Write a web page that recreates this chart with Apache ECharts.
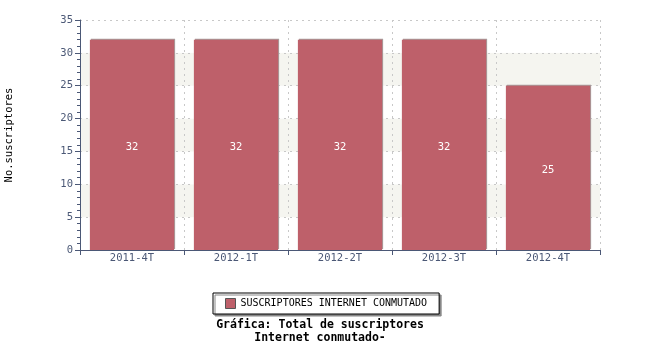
<!DOCTYPE html>
<html><head><meta charset="utf-8">
<script src="https://cdn.jsdelivr.net/npm/echarts@6/dist/echarts.min.js"></script>
<style>html,body{margin:0;padding:0;background:#fff}#c{width:650px;height:350px}</style>
</head><body><div id="c"></div>
<script>
const categories = ['2011-4T','2012-1T','2012-2T','2012-3T','2012-4T'];
const values = [32,32,32,32,25];
const seriesName = 'SUSCRIPTORES INTERNET CONMUTADO';
const yAxisName = 'No.suscriptores';
const titleText = 'Gráfica: Total de suscriptores\nInternet conmutado-';
const FONT = 'DejaVu Sans Mono';
const AX = '#4b5876';
const chart = echarts.init(document.getElementById('c'));
chart.setOption({
  animation:false,
  textStyle:{fontFamily:FONT},
  title:{text:titleText,left:320,textAlign:'center',top:319,padding:0,
    textStyle:{fontFamily:FONT,fontSize:11.5,fontWeight:'bold',color:'#000',lineHeight:13}},
  legend:{data:[seriesName],left:213,top:293,padding:[5,12],
    borderColor:'#000',borderWidth:1,backgroundColor:'#fff',
    shadowColor:'#888',shadowOffsetX:2,shadowOffsetY:2,shadowBlur:0,
    itemWidth:10,itemHeight:10,itemGap:6,icon:'rect',
    textStyle:{fontFamily:FONT,fontSize:10,color:'#000'},
    itemStyle:{borderColor:'#555',borderWidth:1}},
  grid:{left:80,right:50,top:20,bottom:100,outerBoundsMode:'none',containLabel:false},
  xAxis:{type:'category',data:categories,boundaryGap:true,
    axisLine:{lineStyle:{color:AX}},
    axisTick:{show:true,alignWithLabel:false,length:5,lineStyle:{color:AX}},
    axisLabel:{color:AX,fontFamily:FONT,fontSize:10.5,margin:3},
    splitLine:{show:true,lineStyle:{color:'#c8c8c8',type:[2,4]}}},
  yAxis:{type:'value',min:0,max:35,interval:5,
    name:yAxisName,nameLocation:'middle',nameGap:65,nameRotate:90,
    nameTextStyle:{fontFamily:FONT,fontSize:10.5,color:'#000'},
    axisLine:{show:true,lineStyle:{color:AX}},
    axisTick:{show:true,length:5,lineStyle:{color:AX}},
    minorTick:{show:true,splitNumber:5,length:3,lineStyle:{color:AX}},
    axisLabel:{color:AX,fontFamily:FONT,fontSize:10.5,margin:7},
    splitLine:{show:true,lineStyle:{color:'#c8c8c8',type:[2,4]}},
    splitArea:{show:true,areaStyle:{color:['#ffffff','#f5f5f0']}}},
  series:[{name:seriesName,type:'bar',data:values,barCategoryGap:'19%',
    itemStyle:{color:'#be606a',shadowColor:'#a89a9a',shadowOffsetX:1,shadowOffsetY:-1,shadowBlur:0},
    label:{show:true,position:'inside',color:'#fff',fontFamily:FONT,fontSize:10.5,offset:[0,2]}}]
});
</script></body></html>
